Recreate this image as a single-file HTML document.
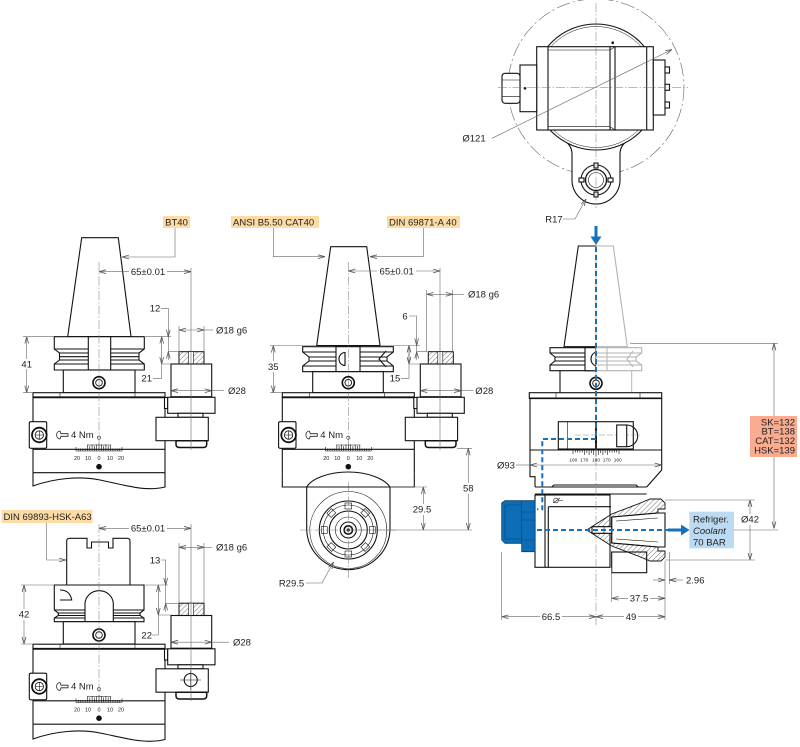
<!DOCTYPE html>
<html><head><meta charset="utf-8"><style>
html,body{margin:0;padding:0;background:#fff;}
svg{display:block;}
text{font-family:"Liberation Sans",sans-serif;font-size:9.5px;fill:#222;}
.k{fill:#fff;stroke:#111;stroke-width:1.1}
.kn{fill:none;stroke:#111;stroke-width:1.1}
.t{fill:none;stroke:#111;stroke-width:0.6}
.d{fill:none;stroke:#666;stroke-width:0.6}
.c{fill:none;stroke:#777;stroke-width:0.5;stroke-dasharray:9 2 1.5 2}
.g{fill:#fff;stroke:#b3b3b3;stroke-width:1.1}
.gn{fill:none;stroke:#b3b3b3;stroke-width:1}
.sm{font-size:5.5px}
.xs{font-size:4.8px}
</style></head><body>
<svg width="800" height="747" viewBox="0 0 800 747" xmlns="http://www.w3.org/2000/svg">
<defs>
<marker id="a" markerUnits="userSpaceOnUse" markerWidth="7" markerHeight="5" refX="7" refY="2.5" orient="auto-start-reverse" viewBox="0 0 7 5"><path d="M0,0.6 L7,2.5 L0,4.4" fill="none" stroke="#555" stroke-width="0.8"/></marker>
<pattern id="h" width="3.5" height="3.5" patternUnits="userSpaceOnUse" patternTransform="rotate(45)"><line x1="0" y1="0" x2="0" y2="3.5" stroke="#333" stroke-width="0.7"/></pattern>
</defs>

<!-- ================= VIEW 1 (BT40) ================= -->
<rect x="163" y="216" width="27" height="12" fill="#FCDCA4"/>
<text x="176.5" y="225.5" text-anchor="middle">BT40</text>
<path class="d" d="M175,228 V257 H122" marker-end="url(#a)"/>
<polygon class="k" points="81.7,237.7 118.3,237.7 131,336.7 67.7,336.7"/>
<path class="k" d="M54.3,336.7 H144.3 V349 L139,353 V360 L144.3,364 V370 H54.3 V364 L59.5,360 V353 L54.3,349 Z"/>
<path class="kn" d="M54.3,349 H144.3 M59.5,353 H139 M59.5,356.7 H139 M59.5,360 H139 M54.3,364 H144.3"/>
<rect class="k" x="88.3" y="336.7" width="22.4" height="33.3"/>
<rect class="k" x="63.3" y="370" width="71.7" height="22.7"/>
<circle cx="99" cy="382.7" r="6" fill="#fff" stroke="#111" stroke-width="1.6"/>
<circle cx="99" cy="382.7" r="3.3" fill="none" stroke="#111" stroke-width="0.9"/>
<path class="kn" d="M33,472.7 V486 C55,478 80,476 100,480 C125,485 145,492 165,487 V472.7 M33,472.7 H165"/>

<g>
<path class="kn" d="M33,397 V472.7 M165,397 V472.7 M33,449.3 H165"/>
<rect class="k" x="33" y="392.7" width="132" height="4.6"/>
<path d="M33,397.3 H165" stroke="#111" stroke-width="1.8"/>
<path class="t" d="M60,393 V397 M135,393 V397"/>
<rect class="k" x="29.3" y="421.7" width="17.4" height="26.6" rx="1.5"/>
<circle cx="39.3" cy="435" r="7.3" fill="#fff" stroke="#111" stroke-width="1.8"/>
<circle cx="39.3" cy="435" r="4.2" fill="none" stroke="#111" stroke-width="0.8"/>
<path class="t" d="M35.3,435 H43.3 M39.3,431 V439"/>
<path d="M60,431 C55.5,431.5 55.5,438.5 60,439 L61,436.3 H68 V433.7 H61 Z" fill="none" stroke="#222" stroke-width="0.8"/>
<text x="71" y="437.8">4 Nm</text>
<circle cx="99" cy="437.7" r="1.6" fill="#fff" stroke="#333" stroke-width="0.6"/>
<g transform="translate(99,451)">
<path class="t" d="M-23,0 H23 M-23,0 V-4 M-20.7,0 V-2.5 M-18.4,0 V-2.5 M-16.1,0 V-2.5 M-13.8,0 V-2.5 M-11.5,0 V-6 M-9.2,0 V-5 M-6.9,0 V-6.5 M-4.6,0 V-5 M-2.3,0 V-6.5 M0,0 V-7.5 M2.3,0 V-6.5 M4.6,0 V-5 M6.9,0 V-6.5 M9.2,0 V-5 M11.5,0 V-6 M13.8,0 V-2.5 M16.1,0 V-2.5 M18.4,0 V-2.5 M20.7,0 V-2.5 M23,0 V-4 M-12,-6 H12"/>
<text class="sm" x="-22" y="9" text-anchor="middle">20</text><text class="sm" x="-11" y="9" text-anchor="middle">10</text><text class="sm" x="0" y="9" text-anchor="middle">0</text><text class="sm" x="11" y="9" text-anchor="middle">10</text><text class="sm" x="22" y="9" text-anchor="middle">20</text>
</g>
<circle cx="99" cy="466.7" r="2.8" fill="#111"/>
<rect x="179" y="351.7" width="25" height="12.3" fill="url(#h)" stroke="#111" stroke-width="1"/>
<rect x="188.5" y="351.7" width="5" height="12.3" fill="#fff" stroke="#111" stroke-width="0.6"/>
<rect class="k" x="171" y="364" width="40.7" height="32.7"/>
<rect class="k" x="164.5" y="397.5" width="3.2" height="11"/>
<rect class="k" x="167.7" y="397.3" width="47.3" height="16"/>
<rect class="k" x="178" y="413.3" width="25" height="4"/>
<rect class="k" x="156" y="417.3" width="52.3" height="23.4"/>
<path d="M176,440.7 H206.7 V444.3 Q206.7,447.5 203.5,447.5 H179.2 Q176,447.5 176,444.3 Z" fill="#fff" stroke="#111" stroke-width="1.5"/>
<path class="d" d="M171,390.7 H211.7" marker-start="url(#a)" marker-end="url(#a)"/>
<path class="d" d="M211.7,390.7 H224"/>
<text x="228" y="394">Ø28</text>
</g>
<path class="c" d="M99,262 V445"/>
<path class="d" d="M191,268 V450"/>
<!-- dims view1 -->
<path class="d" d="M99,271.7 H191" marker-start="url(#a)" marker-end="url(#a)"/>
<rect x="129" y="266" width="38" height="11" fill="#fff"/>
<text x="148" y="275" text-anchor="middle">65±0.01</text>
<path class="d" d="M179,326 V351.7 M204,326 V351.7"/>
<path class="d" d="M179,330 H204" marker-start="url(#a)" marker-end="url(#a)"/>
<path class="d" d="M204,330 H213"/>
<text x="216" y="333.4">Ø18 g6</text>
<path class="d" d="M23,336.7 H54 M144,336.7 H171 M23,392.7 H33"/>
<path class="d" d="M26.7,336.7 V392.7" marker-start="url(#a)" marker-end="url(#a)"/>
<rect x="21" y="359" width="12" height="10" fill="#fff"/>
<text x="26.7" y="367.4" text-anchor="middle">41</text>
<text x="155" y="311.7" text-anchor="middle">12</text>
<path class="d" d="M161,308.3 H168.3 V351.7 H179"/>
<path class="d" d="M168.3,328 V336.7" marker-end="url(#a)"/>
<path class="d" d="M168.3,360 V351.7" marker-end="url(#a)"/>
<text x="146.7" y="381.7" text-anchor="middle">21</text>
<path class="d" d="M153,378.3 H161.7 V336.7 M161.7,364 H171"/>
<path class="d" d="M161.7,350 V336.7" marker-end="url(#a)"/>
<path class="d" d="M161.7,352 V364" marker-end="url(#a)"/>

<!-- ================= VIEW 2 (CAT40) ================= -->
<rect x="231" y="216" width="88" height="12" fill="#FCDCA4"/>
<text x="233" y="225.5">ANSI B5.50 CAT40</text>
<rect x="387" y="216" width="73" height="12" fill="#FCDCA4"/>
<text x="389" y="225.5">DIN 69871-A 40</text>
<path class="d" d="M273.3,228 V256.7 H325" marker-end="url(#a)"/>
<path class="d" d="M423.3,228 V256.7 H370" marker-end="url(#a)"/>
<polygon class="k" points="330.7,246.7 366.7,246.7 380,345.5 316.7,345.5"/>
<path class="k" d="M302.7,346.7 H393.3 V352 L387,357 V361 L393.3,366 V371.7 H302.7 V366 L309,361 V357 L302.7,352 Z"/>
<path class="kn" d="M302.7,352 H393.3 M309,357 H387 M309,361 H387 M302.7,366 H393.3"/>
<rect class="k" x="336" y="346.7" width="24" height="25"/>
<path class="kn" d="M345,352.5 A6,6.5 0 0 0 345,365.5 Z"/>
<path class="kn" d="M386,351 L379,359 L386,367"/>
<rect class="k" x="312.7" y="371.7" width="70.6" height="21"/>
<circle cx="348.3" cy="382.7" r="6" fill="#fff" stroke="#111" stroke-width="1.6"/>
<circle cx="348.3" cy="382.7" r="3.3" fill="none" stroke="#111" stroke-width="0.9"/>
<!-- round housing -->
<path class="k" d="M306.7,487 C312,478 330,472 348.3,472 C366,472 384,478 390,487 Z"/>
<path class="k" d="M306.7,487 V530 A41.7,41.7 0 0 0 390,530 V487 Z"/>
<circle cx="348.3" cy="530" r="38.5" class="t"/>
<circle cx="348.3" cy="530" r="29" class="kn"/>
<circle cx="348.3" cy="530" r="25" class="t"/>
<circle cx="348.3" cy="530" r="19" class="kn"/>
<g class="t">
<rect x="345" y="503" width="6.6" height="6" transform="rotate(0 348.3 530)"/>
<rect x="345" y="503" width="6.6" height="6" transform="rotate(45 348.3 530)"/>
<rect x="345" y="503" width="6.6" height="6" transform="rotate(90 348.3 530)"/>
<rect x="345" y="503" width="6.6" height="6" transform="rotate(135 348.3 530)"/>
<rect x="345" y="503" width="6.6" height="6" transform="rotate(180 348.3 530)"/>
<rect x="345" y="503" width="6.6" height="6" transform="rotate(225 348.3 530)"/>
<rect x="345" y="503" width="6.6" height="6" transform="rotate(270 348.3 530)"/>
<rect x="345" y="503" width="6.6" height="6" transform="rotate(315 348.3 530)"/>
</g>
<circle cx="348.3" cy="530" r="13" class="t"/>
<circle cx="348.3" cy="530" r="8" class="kn"/>
<circle cx="348.3" cy="530" r="4.2" fill="#fff" stroke="#111" stroke-width="1.6"/>
<circle cx="348.3" cy="530" r="1.6" fill="#111"/>
<path class="c" d="M300,530 H396 M348.3,482 V578"/>

<g transform="translate(249.3,0)">
<path class="kn" d="M33,397 V472.7 M165,397 V472.7 M33,449.3 H165"/>
<rect class="k" x="33" y="392.7" width="132" height="4.6"/>
<path d="M33,397.3 H165" stroke="#111" stroke-width="1.8"/>
<path class="t" d="M60,393 V397 M135,393 V397"/>
<rect class="k" x="29.3" y="421.7" width="17.4" height="26.6" rx="1.5"/>
<circle cx="39.3" cy="435" r="7.3" fill="#fff" stroke="#111" stroke-width="1.8"/>
<circle cx="39.3" cy="435" r="4.2" fill="none" stroke="#111" stroke-width="0.8"/>
<path class="t" d="M35.3,435 H43.3 M39.3,431 V439"/>
<path d="M60,431 C55.5,431.5 55.5,438.5 60,439 L61,436.3 H68 V433.7 H61 Z" fill="none" stroke="#222" stroke-width="0.8"/>
<text x="71" y="437.8">4 Nm</text>
<circle cx="99" cy="437.7" r="1.6" fill="#fff" stroke="#333" stroke-width="0.6"/>
<g transform="translate(99,451)">
<path class="t" d="M-23,0 H23 M-23,0 V-4 M-20.7,0 V-2.5 M-18.4,0 V-2.5 M-16.1,0 V-2.5 M-13.8,0 V-2.5 M-11.5,0 V-6 M-9.2,0 V-5 M-6.9,0 V-6.5 M-4.6,0 V-5 M-2.3,0 V-6.5 M0,0 V-7.5 M2.3,0 V-6.5 M4.6,0 V-5 M6.9,0 V-6.5 M9.2,0 V-5 M11.5,0 V-6 M13.8,0 V-2.5 M16.1,0 V-2.5 M18.4,0 V-2.5 M20.7,0 V-2.5 M23,0 V-4 M-12,-6 H12"/>
<text class="sm" x="-22" y="9" text-anchor="middle">20</text><text class="sm" x="-11" y="9" text-anchor="middle">10</text><text class="sm" x="0" y="9" text-anchor="middle">0</text><text class="sm" x="11" y="9" text-anchor="middle">10</text><text class="sm" x="22" y="9" text-anchor="middle">20</text>
</g>
<circle cx="99" cy="466.7" r="2.8" fill="#111"/>
<rect x="179" y="351.7" width="25" height="12.3" fill="url(#h)" stroke="#111" stroke-width="1"/>
<rect x="188.5" y="351.7" width="5" height="12.3" fill="#fff" stroke="#111" stroke-width="0.6"/>
<rect class="k" x="171" y="364" width="40.7" height="32.7"/>
<rect class="k" x="164.5" y="397.5" width="3.2" height="11"/>
<rect class="k" x="167.7" y="397.3" width="47.3" height="16"/>
<rect class="k" x="178" y="413.3" width="25" height="4"/>
<rect class="k" x="156" y="417.3" width="52.3" height="23.4"/>
<path d="M176,440.7 H206.7 V444.3 Q206.7,447.5 203.5,447.5 H179.2 Q176,447.5 176,444.3 Z" fill="#fff" stroke="#111" stroke-width="1.5"/>
<path class="d" d="M171,390.7 H211.7" marker-start="url(#a)" marker-end="url(#a)"/>
<path class="d" d="M211.7,390.7 H224"/>
<text x="226" y="394">Ø28</text>
<path class="kn" d="M33,472.7 V487 H165 V472.7"/>
</g>
<path class="c" d="M348.3,262 V445"/>
<path class="d" d="M440,268 V450"/>
<!-- dims view2 -->
<path class="d" d="M348.3,271 H440" marker-start="url(#a)" marker-end="url(#a)"/>
<rect x="377" y="265.5" width="39" height="11" fill="#fff"/>
<text x="396.7" y="274.4" text-anchor="middle">65±0.01</text>
<path class="d" d="M426.7,290 V351.7 M452.7,290 V351.7"/>
<path class="d" d="M426.7,294.3 H452.7" marker-start="url(#a)" marker-end="url(#a)"/>
<path class="d" d="M452.7,294.3 H464"/>
<text x="468" y="297.7">Ø18 g6</text>
<path class="d" d="M270,345.5 H316.7 M380,345.5 H420 M270,392.7 H282"/>
<path class="d" d="M273.3,345.5 V392.7" marker-start="url(#a)" marker-end="url(#a)"/>
<rect x="267" y="361" width="12" height="11" fill="#fff"/>
<text x="273.3" y="370" text-anchor="middle">35</text>
<text x="405" y="319.4" text-anchor="middle">6</text>
<path class="d" d="M409,316 H416.7 V351.7 H426.7"/>
<path class="d" d="M416.7,337 V345.5" marker-end="url(#a)"/>
<path class="d" d="M416.7,360 V351.7" marker-end="url(#a)"/>
<text x="395" y="381.7" text-anchor="middle">15</text>
<path class="d" d="M401,378.3 H409 V345.5 M409,364 H421"/>
<path class="d" d="M409,356 V345.5" marker-end="url(#a)"/>
<path class="d" d="M409,354 V364" marker-end="url(#a)"/>
<path class="d" d="M457,448.3 H472 M348.3,530 H472 M390,487 H427"/>
<path class="d" d="M468.3,448.3 V530" marker-start="url(#a)" marker-end="url(#a)"/>
<rect x="461" y="483" width="14" height="11" fill="#fff"/>
<text x="468.3" y="491.4" text-anchor="middle">58</text>
<path class="d" d="M423.3,487 V530" marker-start="url(#a)" marker-end="url(#a)"/>
<rect x="411" y="504" width="22" height="11" fill="#fff"/>
<text x="422" y="512.4" text-anchor="middle">29.5</text>
<text x="291.5" y="586.4" text-anchor="middle">R29.5</text>
<path class="d" d="M306,583 H322 L333.5,562" marker-end="url(#a)"/>

<!-- ================= VIEW 3 (HSK) ================= -->
<rect x="1.5" y="510" width="91" height="13" fill="#FCDCA4"/>
<text x="3.5" y="520">DIN 69893-HSK-A63</text>
<path class="d" d="M46.7,523 V560 H66" marker-end="url(#a)"/>
<path class="k" d="M66.7,585 V541 Q66.7,538.3 69.5,538.3 H87 V548 H91.5 V542 H108.5 V548 H113 V538.3 H127.2 Q130,538.3 130,541 V585 Z"/>
<path class="k" d="M54.3,585 H144 V610 L140,613 V615.5 L144,618 V621.7 H54.3 V618 L58.3,615.5 V613 L54.3,610 Z"/>
<path class="kn" d="M54.3,610 H144 M58.3,613 H140 M58.3,615.5 H140 M54.3,618 H144"/>
<path class="k" d="M85,621.7 V604 A14.15,13.3 0 0 1 113.3,604 V621.7 Z"/>
<path class="kn" d="M60,590 Q70,590 71.7,600 H60"/>
<rect class="k" x="63.3" y="621.7" width="71.7" height="22.3"/>
<circle cx="99" cy="635" r="6" fill="#fff" stroke="#111" stroke-width="1.6"/>
<circle cx="99" cy="635" r="3.3" fill="none" stroke="#111" stroke-width="0.9"/>

<g transform="translate(0,251.5)">
<path class="kn" d="M33,397 V472.7 M165,397 V472.7 M33,449.3 H165"/>
<rect class="k" x="33" y="392.7" width="132" height="4.6"/>
<path d="M33,397.3 H165" stroke="#111" stroke-width="1.8"/>
<path class="t" d="M60,393 V397 M135,393 V397"/>
<rect class="k" x="29.3" y="421.7" width="17.4" height="26.6" rx="1.5"/>
<circle cx="39.3" cy="435" r="7.3" fill="#fff" stroke="#111" stroke-width="1.8"/>
<circle cx="39.3" cy="435" r="4.2" fill="none" stroke="#111" stroke-width="0.8"/>
<path class="t" d="M35.3,435 H43.3 M39.3,431 V439"/>
<path d="M60,431 C55.5,431.5 55.5,438.5 60,439 L61,436.3 H68 V433.7 H61 Z" fill="none" stroke="#222" stroke-width="0.8"/>
<text x="71" y="437.8">4 Nm</text>
<circle cx="99" cy="437.7" r="1.6" fill="#fff" stroke="#333" stroke-width="0.6"/>
<g transform="translate(99,451)">
<path class="t" d="M-23,0 H23 M-23,0 V-4 M-20.7,0 V-2.5 M-18.4,0 V-2.5 M-16.1,0 V-2.5 M-13.8,0 V-2.5 M-11.5,0 V-6 M-9.2,0 V-5 M-6.9,0 V-6.5 M-4.6,0 V-5 M-2.3,0 V-6.5 M0,0 V-7.5 M2.3,0 V-6.5 M4.6,0 V-5 M6.9,0 V-6.5 M9.2,0 V-5 M11.5,0 V-6 M13.8,0 V-2.5 M16.1,0 V-2.5 M18.4,0 V-2.5 M20.7,0 V-2.5 M23,0 V-4 M-12,-6 H12"/>
<text class="sm" x="-22" y="9" text-anchor="middle">20</text><text class="sm" x="-11" y="9" text-anchor="middle">10</text><text class="sm" x="0" y="9" text-anchor="middle">0</text><text class="sm" x="11" y="9" text-anchor="middle">10</text><text class="sm" x="22" y="9" text-anchor="middle">20</text>
</g>
<circle cx="99" cy="466.7" r="2.8" fill="#111"/>
<rect x="179" y="351.7" width="25" height="12.3" fill="url(#h)" stroke="#111" stroke-width="1"/>
<rect x="188.5" y="351.7" width="5" height="12.3" fill="#fff" stroke="#111" stroke-width="0.6"/>
<rect class="k" x="171" y="364" width="40.7" height="32.7"/>
<rect class="k" x="164.5" y="397.5" width="3.2" height="11"/>
<rect class="k" x="167.7" y="397.3" width="47.3" height="16"/>
<rect class="k" x="178" y="413.3" width="25" height="4"/>
<rect class="k" x="156" y="417.3" width="52.3" height="23.4"/>
<path d="M176,440.7 H206.7 V444.3 Q206.7,447.5 203.5,447.5 H179.2 Q176,447.5 176,444.3 Z" fill="#fff" stroke="#111" stroke-width="1.5"/>
<circle cx="190.7" cy="428.5" r="6.5" fill="#fff" stroke="#111" stroke-width="1.1"/>
<path class="t" d="M180,428.5 H201 M190.7,419 V438"/>
<path class="d" d="M171,390.7 H211.7" marker-start="url(#a)" marker-end="url(#a)"/>
<path class="d" d="M211.7,390.7 H229"/>
<text x="233" y="394">Ø28</text>
<path class="kn" d="M33,472.7 V487.5 C55,479.5 80,477.5 100,481.5 C125,486.5 145,493 165,488 V472.7 M33,472.7 H165"/>
</g>
<path class="c" d="M99,524 V695"/>
<path class="d" d="M191,524 V701"/>
<!-- dims view3 -->
<path class="d" d="M99,528.3 H191" marker-start="url(#a)" marker-end="url(#a)"/>
<rect x="129" y="523" width="38" height="11" fill="#fff"/>
<text x="148" y="531.7" text-anchor="middle">65±0.01</text>
<path class="d" d="M179,543 V603.3 M204,543 V603.3"/>
<path class="d" d="M179,547.3 H204" marker-start="url(#a)" marker-end="url(#a)"/>
<path class="d" d="M204,547.3 H212"/>
<text x="216" y="550.7">Ø18 g6</text>
<path class="d" d="M21,585 H54 M144,585 H168 M21,644 H33"/>
<path class="d" d="M24,585 V644" marker-start="url(#a)" marker-end="url(#a)"/>
<rect x="18" y="609" width="12" height="11" fill="#fff"/>
<text x="24" y="617.7" text-anchor="middle">42</text>
<text x="155" y="563.4" text-anchor="middle">13</text>
<path class="d" d="M161,560 H165.7 V603.3 H179"/>
<path class="d" d="M165.7,577 V585" marker-end="url(#a)"/>
<path class="d" d="M165.7,612 V603.3" marker-end="url(#a)"/>
<text x="146.7" y="638.4" text-anchor="middle">22</text>
<path class="d" d="M152,635 H158.3 V585 M158.3,615 H171"/>
<path class="d" d="M158.3,597 V585" marker-end="url(#a)"/>
<path class="d" d="M158.3,603 V615" marker-end="url(#a)"/>

<!-- ================= VIEW 4 TOP (plan) ================= -->
<circle cx="596" cy="87" r="88" fill="none" stroke="#666" stroke-width="0.6" stroke-dasharray="14 3 2 3"/>
<path class="k" d="M565,141 Q572,146 572,154 V180 A24,24 0 0 0 620,180 V154 Q620,146 627,141 Z"/>
<circle cx="596" cy="87" r="63" class="k"/>
<circle cx="596" cy="87" r="60.5" fill="none" stroke="#111" stroke-width="0.5"/>
<circle cx="596" cy="180" r="15" class="k"/>
<g class="k" stroke-width="0.8">
<rect x="594" y="163" width="4" height="5"/><rect x="594" y="192" width="4" height="5"/>
<rect x="579" y="178" width="5" height="4"/><rect x="608" y="178" width="5" height="4"/>
</g>
<circle cx="596" cy="180" r="10.5" fill="#fff" stroke="#111" stroke-width="1.3"/>
<circle cx="596" cy="180" r="7.5" class="t"/>
<rect class="k" x="536.7" y="46.7" width="116.6" height="83.3"/>
<path class="kn" d="M548,46.7 V130 M610,46.7 V130 M615,46.7 V130 M646.7,46.7 V130"/>
<path class="t" d="M548,50 H610 M548,126.7 H610 M610,50 L615,46.7 M610,126.7 L615,130"/>
<rect class="k" x="520" y="65" width="16.7" height="46.7"/>
<rect class="k" x="502" y="73.3" width="18" height="30" rx="3"/>
<path class="t" d="M502,80 H520 M502,96.6 H520"/>
<rect class="k" x="653.3" y="60" width="11.7" height="55"/>
<g class="k" stroke-width="0.8"><rect x="665" y="67" width="4.5" height="6"/><rect x="665" y="84.3" width="4.5" height="6"/><rect x="665" y="102" width="4.5" height="6"/></g>
<circle cx="612.7" cy="42.7" r="1.3" fill="#111"/>
<circle cx="525" cy="88.3" r="1.3" fill="#111"/>
<path class="c" d="M498,87.3 H688 M596,3 V208"/>
<path class="d" d="M492,138.3 L672,49.5" marker-end="url(#a)"/>
<text x="474" y="141.4" text-anchor="middle">Ø121</text>
<text x="554" y="222.4" text-anchor="middle">R17</text>
<path class="d" d="M563,219 H575 L586,199" marker-end="url(#a)"/>

<!-- ================= VIEW 4 SIDE ================= -->
<path d="M596,226 V238" stroke="#1570BD" stroke-width="3"/>
<polygon points="590.5,236.5 601.5,236.5 596,245" fill="#1570BD"/>
<path class="k" d="M596,246 H578.3 L564,346.7 H596"/>
<path class="g" d="M596,246 H613.3 L627.3,346.7 H596"/>
<path class="k" d="M596,347.7 H550 V353 L555,357 V361 L550,365 V370.7 H596"/>
<path class="kn" d="M550,353 H596 M555,357 H596 M555,361 H596 M550,365 H596"/>
<rect class="k" x="585" y="347.7" width="11" height="23"/>
<path class="kn" d="M596,352.5 A5,6.5 0 0 0 596,365.5"/>
<path class="g" d="M596,347.7 H641.7 V353 L636,357 V361 L641.7,365 V370.7 H596"/>
<path class="gn" d="M596,353 H641.7 M596,357 H636 M596,361 H636 M596,365 H641.7 M607,347.7 V370.7 M633,351 L627,359 L633,367"/>
<path class="kn" d="M560,370.7 V392.7"/>
<path class="gn" d="M631.7,370.7 V392.7"/>
<circle cx="596" cy="383.3" r="6" fill="#fff" stroke="#111" stroke-width="1.6"/>
<circle cx="596" cy="383.3" r="3.3" fill="none" stroke="#111" stroke-width="0.9"/>
<!-- body -->
<rect class="k" x="529.3" y="392.7" width="132.4" height="5.6"/>
<path d="M529.3,398.3 H661.7" stroke="#111" stroke-width="1.6"/>
<path class="t" d="M556,393 V398 M640,393 V398"/>
<path class="kn" d="M530,398.3 V476.7 H535 V487 M661.7,398.3 V470 L646.7,487 M530,450 H661.7"/>
<rect class="k" x="558.3" y="421.7" width="75" height="27.3"/>
<path class="t" d="M567.3,421.7 V449"/>
<path d="M596,421.7 V449" stroke="#111" stroke-width="2"/>
<path d="M575,435 H640" stroke="#888" stroke-width="0.5" stroke-dasharray="6 2"/>
<rect class="k" x="616.7" y="425" width="10" height="21.7"/>
<path class="kn" d="M626.7,425 A11,10.85 0 0 1 626.7,446.7"/>
<g transform="translate(596,450)">
<path class="t" d="M-23,0 H23 M-23,0 V4 M-20.7,0 V2.5 M-18.4,0 V2.5 M-16.1,0 V2.5 M-13.8,0 V2.5 M-11.5,0 V5 M-9.2,0 V3 M-6.9,0 V5 M-4.6,0 V3 M-2.3,0 V5 M0,0 V6.5 M2.3,0 V5 M4.6,0 V3 M6.9,0 V5 M9.2,0 V3 M11.5,0 V5 M13.8,0 V2.5 M16.1,0 V2.5 M18.4,0 V2.5 M20.7,0 V2.5 M23,0 V4"/>
<text class="xs" x="-22.7" y="11.5" text-anchor="middle">160</text><text class="xs" x="-11.7" y="11.5" text-anchor="middle">170</text><text class="xs" x="0" y="11.5" text-anchor="middle">180</text><text class="xs" x="10.7" y="11.5" text-anchor="middle">170</text><text class="xs" x="21.7" y="11.5" text-anchor="middle">160</text>
</g>
<path class="d" d="M516,465 H530"/>
<path class="d" d="M530,465 H661.7" marker-start="url(#a)" marker-end="url(#a)"/>
<text x="497" y="468.4">Ø93</text>
<!-- band -->
<path class="k" d="M551.7,487 L554,485 H636 L638.3,487 Z"/>
<path class="kn" d="M535,487 H646.7 M535,494 H646.7"/>
<!-- lower housing -->
<rect class="k" x="535" y="495" width="75" height="72.3"/>
<path class="kn" d="M545,495 V567.3 M548.3,506.7 V567.3 M548.3,506.7 H611"/>
<circle cx="556" cy="500.5" r="2.3" class="t"/>
<path class="t" d="M553,503 L560,498 M558.5,500.5 H563"/>
<rect class="k" x="611.7" y="552" width="35" height="20.7"/>
<path class="k" d="M611.7,517 L658,513 H665 V547 H658 L611.7,543 Z"/>
<path class="t" d="M616,521 L658,518 M616,539 L658,542"/>
<path d="M586.7,530 L611.7,514 L638,504 L650,499 L661,499 L665,503 L665,509 L658,509 L658,513 L611.7,517 L611.7,526.7 L592,526.7 Z" fill="url(#h)" stroke="#111" stroke-width="0.9"/>
<path d="M586.7,530 L611.7,546 L638,556 L650,561 L661,561 L665,557 L665,551 L658,551 L658,547 L611.7,543 L611.7,533.3 L592,533.3 Z" fill="url(#h)" stroke="#111" stroke-width="0.9"/>
<rect class="k" x="592" y="526.7" width="19.7" height="6.6" stroke-width="0.8"/>
<path class="t" d="M604,526.7 V533.3"/>
<!-- blue nut -->
<path d="M501.7,503 L505,500.7 H535 V551.7 H521.7 V543.3 H505 L501.7,540 Z" fill="#0E6DB7" stroke="#08406e" stroke-width="0.8"/>
<path d="M521.7,500.7 V543.3 M505,505 H521.7 M505,539 H521.7 M521.7,512 H535 M521.7,520 H535 M521.7,540 H535 M505,505 V539" stroke="#08406e" stroke-width="0.6" fill="none"/>
<!-- centre line & coolant path -->
<path class="c" d="M596,240 V625"/>
<path d="M596,247 V439 H542.3 V509.3 H537" stroke="#1570BD" stroke-width="2" fill="none" stroke-dasharray="5 3"/>
<path d="M537,530 H668" stroke="#1570BD" stroke-width="2" fill="none" stroke-dasharray="5 3"/>
<path d="M668,530 H682" stroke="#1570BD" stroke-width="3"/>
<polygon points="681,524.5 689.5,530 681,535.5" fill="#1570BD"/>
<!-- SK dim -->
<path class="d" d="M630,343.3 H778 M734,530 H778"/>
<path class="d" d="M774,416 V343.3" marker-end="url(#a)"/>
<path class="d" d="M774,457 V528.5" marker-end="url(#a)"/>
<rect x="750" y="416" width="47" height="41" fill="#F9AC8F"/>
<text x="795" y="425.4" text-anchor="end">SK=132</text>
<text x="795" y="434.7" text-anchor="end">BT=138</text>
<text x="795" y="444" text-anchor="end">CAT=132</text>
<text x="795" y="453.3" text-anchor="end">HSK=139</text>
<!-- coolant box -->
<rect x="689.3" y="511.7" width="44.7" height="36.6" fill="#BCDBF2"/>
<text x="693" y="522.7">Refriger.</text>
<text x="693" y="534" font-style="italic">Coolant</text>
<text x="693" y="545.3">70 BAR</text>
<!-- Ø42 -->
<path class="d" d="M665,500 H755 M665,560 H755"/>
<path class="d" d="M750,500 V560" marker-start="url(#a)" marker-end="url(#a)"/>
<rect x="740" y="514" width="20" height="11" fill="#fff"/>
<text x="750" y="522.7" text-anchor="middle">Ø42</text>
<!-- bottom dims -->
<path class="d" d="M501.7,552 V620 M611.7,568 V602 M665,561 V620 M669.3,552 V584"/>
<path class="d" d="M653,580 H665" marker-end="url(#a)"/>
<path class="d" d="M683,580 H669.3" marker-end="url(#a)"/>
<text x="686" y="583.4">2.96</text>
<path class="d" d="M611.7,598.3 H665" marker-start="url(#a)" marker-end="url(#a)"/>
<rect x="628" y="593" width="22" height="11" fill="#fff"/>
<text x="639" y="601.7" text-anchor="middle">37.5</text>
<path class="d" d="M501.7,616.7 H596" marker-start="url(#a)" marker-end="url(#a)"/>
<path class="d" d="M596,616.7 H665" marker-start="url(#a)" marker-end="url(#a)"/>
<rect x="540" y="611" width="22" height="11" fill="#fff"/>
<text x="551" y="620" text-anchor="middle">66.5</text>
<rect x="624" y="611" width="14" height="11" fill="#fff"/>
<text x="631" y="620" text-anchor="middle">49</text>
</svg>
</body></html>
